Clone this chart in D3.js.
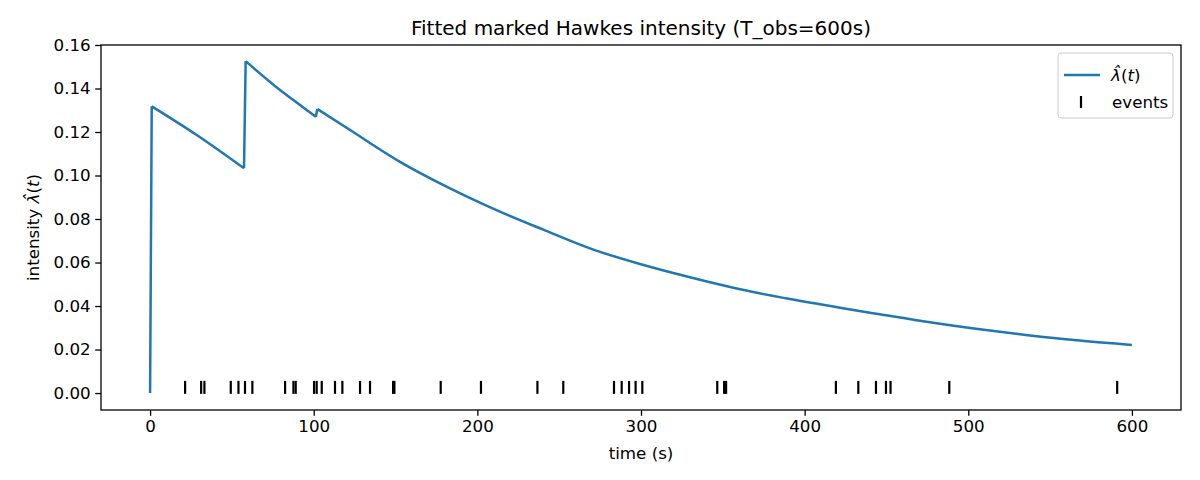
<!DOCTYPE html>
<html>
<head>
<meta charset="utf-8">
<script src="https://cdn.jsdelivr.net/npm/d3@7"></script>
<style>
  body { margin: 0; background: #fff; }
  svg { font-family: "DejaVu Sans", sans-serif; }
</style>
</head>
<body>
<svg id="chart"></svg>
<script>
// intensity curve (t in s, lambda)
const curveT = [0, 1.0, 28.5, 57.4, 58.4, 79.4, 91.6, 101.3, 102.2, 122.2, 152.7, 183.3, 213.8, 240.3,
  268.8, 299.4, 329.9, 360.5, 391, 421.6, 446, 476.6, 507.1, 537.7, 568.2, 600];
const curveV = [0, 0.1318, 0.1186, 0.1033, 0.1526, 0.1393, 0.1324, 0.1270, 0.1306, 0.1209, 0.1063, 0.0941,
  0.0834, 0.0751, 0.0665, 0.0593, 0.0532, 0.0477, 0.0432, 0.0392, 0.0362, 0.0325, 0.0293, 0.0265, 0.0241, 0.0221];

// event times
const eventTimes = [21.4, 31.2, 33.2, 49.3, 54.0, 58.0, 62.5, 82.5, 87.6, 89.0, 100.2, 101.8, 104.9,
  113.0, 117.5, 128.3, 134.4, 148.5, 149.3, 177.6, 202.2, 236.7, 252.5, 283.5, 288.2, 292.7, 296.7,
  300.8, 346.6, 350.8, 352.0, 419.1, 432.8, 443.6, 449.7, 452.5, 488.4, 591.0];
const eventLevel = 0.0026;

const xTicks = [0, 100, 200, 300, 400, 500, 600];
const yTicks = [0, 0.02, 0.04, 0.06, 0.08, 0.10, 0.12, 0.14, 0.16];

const W = 1200, H = 480;
const margin = {top: 45, right: 19, bottom: 70, left: 101};
const width = W - margin.left - margin.right;
const height = H - margin.top - margin.bottom;
const fs = '16.7px';

const svg = d3.select('#chart').attr('width', W).attr('height', H);
const chart = svg.append('g').attr('transform', `translate(${margin.left},${margin.top})`);

const xScale = d3.scaleLinear().domain([-30, 630]).range([0, width]);
const yScale = d3.scaleLinear().domain([-0.0078, 0.16]).range([height, 0]);

const xAxis = d3.axisBottom(xScale).tickValues(xTicks).tickFormat(d3.format('d')).tickSize(5.8).tickPadding(4.5);
const yAxis = d3.axisLeft(yScale).tickValues(yTicks).tickFormat(d3.format('.2f')).tickSize(5.8).tickPadding(4.5);

const xAxisG = chart.append('g').attr('transform', `translate(0,${height})`).call(xAxis);
const yAxisG = chart.append('g').call(yAxis);
[xAxisG, yAxisG].forEach(g => {
  g.select('.domain').remove();
  g.selectAll('line').attr('stroke', '#000').attr('stroke-width', 1.3);
  g.selectAll('text').attr('fill', '#000').style('font-size', fs).style('font-family', 'DejaVu Sans');
});

// spines
chart.append('rect')
  .attr('width', width).attr('height', height)
  .attr('fill', 'none').attr('stroke', '#000').attr('stroke-width', 1.3);

// line: split into decaying runs so the jumps stay sharp
const data = curveT.map((t, i) => ({t, v: curveV[i]}));
let runs = [[data[0]]];
for (let i = 1; i < data.length; i++) {
  if (data[i].v > data[i - 1].v) runs.push([]);
  runs[runs.length - 1].push(data[i]);
}
const smooth = d3.line().curve(d3.curveMonotoneX).x(d => xScale(d.t)).y(d => yScale(d.v));
const straight = d3.line().x(d => xScale(d.t)).y(d => yScale(d.v));
let pathD = '';
runs.forEach((r, i) => {
  if (i > 0) pathD += straight([runs[i - 1][runs[i - 1].length - 1], r[0]]);
  if (r.length > 1) pathD += smooth(r);
});
chart.append('path')
  .attr('d', pathD)
  .attr('fill', 'none')
  .attr('stroke', '#1f77b4')
  .attr('stroke-width', 2.5)
  .attr('stroke-linejoin', 'round');

// events
chart.selectAll('.event').data(eventTimes).join('line')
  .attr('class', 'event')
  .attr('x1', d => xScale(d)).attr('x2', d => xScale(d))
  .attr('y1', yScale(eventLevel) - 6.5).attr('y2', yScale(eventLevel) + 6.5)
  .attr('stroke', '#000').attr('stroke-width', 2.2);

// title and labels
svg.append('text')
  .attr('x', margin.left + width / 2).attr('y', 35)
  .attr('text-anchor', 'middle').style('font-size', '20px')
  .text('Fitted marked Hawkes intensity (T_obs=600s)');

svg.append('text')
  .attr('x', margin.left + width / 2).attr('y', 459)
  .attr('text-anchor', 'middle').style('font-size', fs)
  .text('time (s)');

const yl = svg.append('text')
  .attr('transform', `translate(39,${margin.top + height / 2}) rotate(-90)`)
  .attr('text-anchor', 'middle').style('font-size', fs);
yl.append('tspan').text('intensity ');
yl.append('tspan').attr('font-style', 'italic').text('λ\u0302');
yl.append('tspan').text('(');
yl.append('tspan').attr('font-style', 'italic').text('t');
yl.append('tspan').text(')');

// legend
const lg = svg.append('g').attr('transform', 'translate(1058,53)');
lg.append('rect').attr('width', 115).attr('height', 65).attr('rx', 3)
  .attr('fill', '#fff').attr('fill-opacity', 0.8).attr('stroke', '#ccc');
lg.append('line').attr('x1', 6).attr('x2', 42).attr('y1', 22).attr('y2', 22)
  .attr('stroke', '#1f77b4').attr('stroke-width', 2.5);
const lt = lg.append('text').attr('x', 53).attr('y', 28).style('font-size', fs);
lt.append('tspan').attr('font-style', 'italic').text('λ\u0302');
lt.append('tspan').text('(');
lt.append('tspan').attr('font-style', 'italic').text('t');
lt.append('tspan').text(')');
lg.append('line').attr('x1', 23).attr('x2', 23).attr('y1', 43).attr('y2', 55)
  .attr('stroke', '#000').attr('stroke-width', 2.2);
lg.append('text').attr('x', 54).attr('y', 55).style('font-size', fs).text('events');
</script>
</body>
</html>
